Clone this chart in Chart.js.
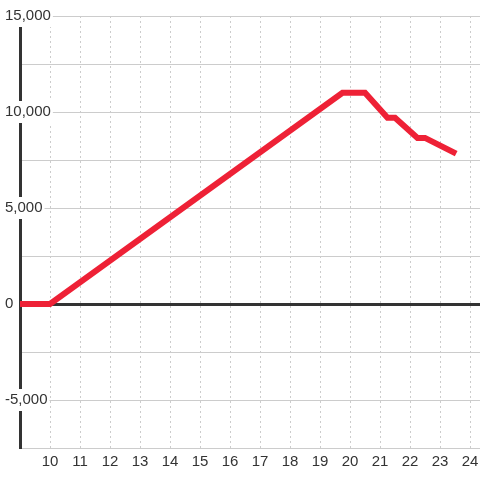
<!DOCTYPE html>
<html>
<head>
<meta charset="utf-8">
<script src="https://cdn.jsdelivr.net/npm/chart.js@4"></script>
<style>
  html, body { margin: 0; padding: 0; background: #fff; }
  #wrap { width: 480px; height: 480px; }
</style>
</head>
<body>
<div id="wrap"><canvas id="myChart" width="480" height="480"></canvas></div>
<script>
// data
var hours = [9, 10, 19.75, 20.5, 21.25, 21.5, 22.25, 22.5, 23.45];
var values = [0, 0, 11000, 11000, 9700, 9700, 8650, 8650, 7900];
var xTicks = [10, 11, 12, 13, 14, 15, 16, 17, 18, 19, 20, 21, 22, 23, 24];
var yTicks = [-7500, -5000, -2500, 0, 2500, 5000, 7500, 10000, 12500, 15000];
var yLabeled = [-5000, 0, 5000, 10000, 15000];

var fontFam = "'Liberation Sans', Arial, sans-serif";

var ctx = document.getElementById('myChart').getContext('2d');
var myChart = new Chart(ctx, {
    type: 'line',
    data: {
        datasets: [{
            data: hours.map(function (h, i) { return { x: h, y: values[i] }; }),
            borderColor: '#ee2136',
            backgroundColor: 'transparent',
            borderWidth: 6,
            borderCapStyle: 'square',
            tension: 0,
            pointRadius: 0
        }]
    },
    options: {
        responsive: false,
        animation: false,
        devicePixelRatio: 1,
        layout: { padding: { left: 5, top: 16, right: 0, bottom: 0 } },
        plugins: {
            legend: { display: false },
            tooltip: { enabled: false }
        },
        scales: {
            x: {
                type: 'linear',
                min: 9,
                max: 24 + 1 / 3,
                afterBuildTicks: function (scale) {
                    scale.ticks = xTicks.map(function (v) { return { value: v }; });
                },
                afterFit: function (scale) {
                    scale.height = 32;
                    scale.paddingLeft = 0;
                    scale.paddingRight = 0;
                },
                grid: { color: '#cccccc', lineWidth: 1, drawTicks: false },
                border: { display: false, dash: [2, 3] },
                ticks: {
                    padding: 5,
                    color: '#333333',
                    font: { family: fontFam, size: 15 },
                    maxRotation: 0,
                    autoSkip: false
                }
            },
            y: {
                min: -7500,
                max: 15000,
                afterBuildTicks: function (scale) {
                    scale.ticks = yTicks.map(function (v) { return { value: v }; });
                },
                afterFit: function (scale) { scale.width = 15; },
                grid: {
                    drawTicks: false,
                    color: function (c) { return c.tick && c.tick.value === 0 ? '#333333' : '#cccccc'; },
                    lineWidth: function (c) { return c.tick && c.tick.value === 0 ? 3 : 1; }
                },
                border: { display: true, color: '#333333', width: 3 },
                ticks: {
                    mirror: true,
                    crossAlign: 'near',
                    padding: -15,
                    color: '#333333',
                    font: { family: fontFam, size: 15 },
                    showLabelBackdrop: true,
                    backdropColor: '#ffffff',
                    backdropPadding: 2,
                    callback: function (v) {
                        return yLabeled.indexOf(v) >= 0 ? v.toLocaleString('en-US') : '';
                    }
                }
            }
        }
    }
});
</script>
</body>
</html>
